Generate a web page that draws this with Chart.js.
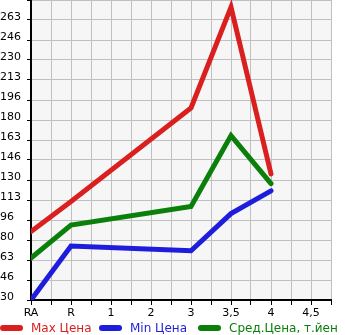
<!DOCTYPE html>
<html>
<head>
<meta charset="UTF-8">
<script src="https://cdn.jsdelivr.net/npm/chart.js@4.4.0/dist/chart.umd.min.js"></script>
<style>
  body { margin: 0; background: #fff; }
</style>
</head>
<body>
<canvas id="c" width="345" height="335"></canvas>
<script>
const categories = ['RA', 'R', '1', '2', '3', '3,5', '4', '4,5'];
const maxPrice = [87, 112, null, null, 190, 274, 135, null];
const minPrice = [30, 75, null, null, 71, 102, 121, null];
const avgPrice = [65, 92.5, null, null, 108, 167, 127, null];
const yTickLabels = ['30', '46', '63', '80', '96', '113', '130', '146', '163', '180', '196', '213', '230', '246', '263'];
const seriesNames = ['Max Цена', 'Min Цена', 'Сред.Цена, т.йен'];
const colors = ['#da1f1f', '#1d1ddb', '#0a7f0a'];

const yMin = 30, yMax = 280;

function toPoints(arr) {
  return arr.map((v, i) => v == null ? null : { x: i, y: v }).filter(p => p);
}

Chart.defaults.font.family = 'DejaVu Sans';
Chart.defaults.color = '#000';

const bgPlugin = {
  id: 'bg',
  beforeDraw(chart) {
    const a = chart.chartArea, ctx = chart.ctx;
    ctx.save();
    ctx.fillStyle = '#f6f6f6';
    ctx.fillRect(a.left, a.top, a.right - a.left, a.bottom - a.top);
    ctx.restore();
  }
};

// legend drawn by hand so it fits one row like the original
const legendX = [0, 99, 198];
const legendPlugin = {
  id: 'myLegend',
  afterDraw(chart) {
    const ctx = chart.ctx;
    ctx.save();
    ctx.font = '12px DejaVu Sans';
    ctx.textBaseline = 'middle';
    const y = 328;
    chart.data.datasets.forEach((ds, i) => {
      const x = legendX[i];
      ctx.strokeStyle = ds.borderColor;
      ctx.lineWidth = 6;
      ctx.lineCap = 'round';
      ctx.beginPath();
      ctx.moveTo(x + 3, y);
      ctx.lineTo(x + 20, y);
      ctx.stroke();
      ctx.fillStyle = ds.borderColor;
      ctx.fillText(ds.label, x + 31, y + 1);
    });
    ctx.restore();
  }
};

const datasets = [maxPrice, minPrice, avgPrice].map((arr, i) => ({
  label: seriesNames[i],
  data: toPoints(arr),
  borderColor: colors[i],
  backgroundColor: colors[i],
  borderWidth: 5,
  pointRadius: 0,
  tension: 0,
  spanGaps: true,
  borderCapStyle: 'round'
}));

new Chart(document.getElementById('c'), {
  type: 'line',
  data: { datasets },
  options: {
    responsive: false,
    animation: false,
    layout: { padding: { top: 0, right: 14, left: 0, bottom: 0 } },
    plugins: { legend: { display: false }, tooltip: { enabled: false } },
    scales: {
      x: {
        type: 'linear',
        min: 0,
        max: 7.5,
        afterBuildTicks(scale) {
          scale.ticks = [];
          for (let i = 0; i <= 15; i++) scale.ticks.push({ value: i * 0.5 });
        },
        afterFit(scale) {
          scale.height = 35;
          scale.paddingLeft = 0;
          scale.paddingRight = 0;
        },
        ticks: {
          autoSkip: false,
          maxRotation: 0,
          padding: 2,
          font: { size: 11 },
          callback: v => Number.isInteger(v) ? categories[v] : ''
        },
        grid: { color: '#c0c0c0', tickColor: '#000', tickLength: 5 },
        border: { color: '#000', width: 2 }
      },
      y: {
        min: yMin,
        max: yMax,
        afterBuildTicks(scale) {
          scale.ticks = [];
          for (let i = 0; i <= 15; i++) scale.ticks.push({ value: yMin + i * (yMax - yMin) / 15 });
        },
        afterFit(scale) {
          scale.width = 31;
          scale.paddingTop = 0;
          scale.paddingBottom = 0;
        },
        ticks: {
          autoSkip: false,
          crossAlign: 'far',
          labelOffset: -3,
          padding: 3,
          font: { size: 11 },
          callback: (v, i) => yTickLabels[i] || ''
        },
        grid: { color: '#c0c0c0', tickColor: '#000', tickLength: 4 },
        border: { color: '#000', width: 2 }
      }
    }
  },
  plugins: [bgPlugin, legendPlugin]
});
</script>
</body>
</html>
